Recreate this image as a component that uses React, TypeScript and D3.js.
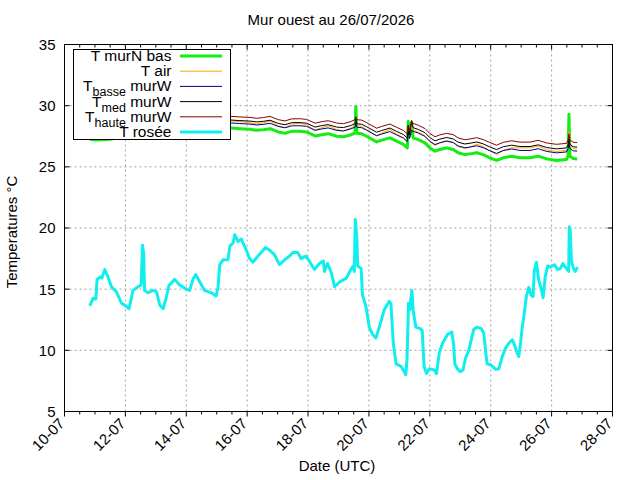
import React from 'react';
import * as d3 from 'd3';

// day offsets from 10-07-2026 00:00 UTC, shared by the wall / air series
const wallDays = [0.83, 1.0, 1.5, 2.0, 2.5, 3.0, 3.5, 4.0, 4.5, 5.0, 5.5, 5.76, 6.09, 6.31, 6.53, 6.75, 7.02, 7.24, 7.46, 7.73, 7.95, 8.23, 8.45, 8.66, 8.94, 9.16, 9.38, 9.54, 9.57, 9.6, 9.76, 9.92, 10.25, 10.42, 10.69, 10.91, 11.13, 11.26, 11.29, 11.33, 11.4, 11.45, 11.62, 11.84, 12.0, 12.17, 12.33, 12.55, 12.77, 12.93, 13.15, 13.32, 13.54, 13.75, 13.97, 14.19, 14.41, 14.69, 14.96, 15.29, 15.56, 15.84, 16.16, 16.49, 16.54, 16.57, 16.6, 16.71, 16.84];
const tMurNBas = [27.25, 27.2, 27.25, 27.5, 27.7, 27.8, 27.9, 28.0, 28.1, 28.2, 28.17, 28.12, 28.07, 27.99, 28.04, 28.12, 27.85, 27.74, 27.9, 27.9, 27.85, 27.52, 27.63, 27.71, 27.5, 27.45, 27.6, 27.75, 29.95, 27.75, 27.7, 27.5, 27.04, 27.18, 27.37, 27.1, 26.83, 26.55, 28.7, 27.5, 28.6, 27.37, 27.23, 26.96, 26.55, 26.28, 26.42, 26.55, 26.42, 26.15, 26.0, 26.06, 26.15, 26.0, 25.74, 25.52, 25.74, 25.87, 25.74, 25.74, 25.87, 25.65, 25.52, 25.6, 25.87, 29.3, 25.87, 25.68, 25.65];
const tAir = [27.7, 27.65, 27.75, 28.0, 28.2, 28.3, 28.4, 28.55, 28.65, 28.75, 28.75, 28.7, 28.6, 28.5, 28.6, 28.75, 28.35, 28.2, 28.5, 28.55, 28.45, 28.0, 28.2, 28.35, 28.05, 27.95, 28.15, 28.35, 28.75, 28.4, 28.3, 28.05, 27.55, 27.75, 28.05, 27.7, 27.35, 27.1, 28.1, 27.4, 28.3, 28.0, 27.85, 27.55, 27.05, 26.75, 26.95, 27.15, 27.0, 26.65, 26.5, 26.6, 26.85, 26.65, 26.3, 26.0, 26.35, 26.55, 26.55, 26.55, 26.7, 26.4, 26.25, 26.35, 26.6, 27.9, 26.8, 26.5, 26.45];
const tBasse = [27.62, 27.57, 27.63, 27.84, 28.05, 28.16, 28.27, 28.38, 28.49, 28.6, 28.58, 28.54, 28.49, 28.42, 28.47, 28.56, 28.3, 28.19, 28.35, 28.36, 28.31, 27.98, 28.1, 28.18, 27.98, 27.93, 28.08, 28.24, 28.6, 28.24, 28.2, 28.0, 27.54, 27.68, 27.88, 27.61, 27.35, 27.07, 27.9, 27.3, 28.0, 27.9, 27.76, 27.49, 27.09, 26.82, 26.97, 27.1, 26.98, 26.71, 26.56, 26.62, 26.72, 26.57, 26.32, 26.1, 26.33, 26.46, 26.34, 26.34, 26.48, 26.26, 26.14, 26.22, 26.5, 26.9, 26.5, 26.31, 26.28];
const tMed = [27.82, 27.78, 27.84, 28.06, 28.27, 28.38, 28.5, 28.61, 28.73, 28.84, 28.82, 28.78, 28.74, 28.67, 28.72, 28.81, 28.55, 28.44, 28.61, 28.62, 28.57, 28.25, 28.37, 28.45, 28.25, 28.21, 28.36, 28.52, 28.95, 28.52, 28.48, 28.28, 27.83, 27.97, 28.17, 27.9, 27.64, 27.36, 28.4, 27.6, 28.7, 28.2, 28.06, 27.79, 27.39, 27.12, 27.27, 27.4, 27.28, 27.01, 26.87, 26.93, 27.03, 26.88, 26.63, 26.41, 26.64, 26.77, 26.66, 26.66, 26.8, 26.58, 26.47, 26.55, 26.8, 27.3, 26.85, 26.64, 26.61];
const tHaute = [28.08, 28.04, 28.1, 28.32, 28.54, 28.66, 28.78, 28.89, 29.01, 29.13, 29.12, 29.08, 29.04, 28.97, 29.03, 29.12, 28.86, 28.75, 28.92, 28.93, 28.88, 28.57, 28.69, 28.77, 28.58, 28.53, 28.68, 28.85, 29.1, 28.85, 28.82, 28.62, 28.16, 28.3, 28.5, 28.23, 27.98, 27.7, 28.3, 28.0, 28.8, 28.55, 28.4, 28.13, 27.73, 27.46, 27.61, 27.74, 27.63, 27.36, 27.22, 27.28, 27.38, 27.23, 26.99, 26.77, 27.0, 27.13, 27.02, 27.02, 27.17, 26.95, 26.84, 26.92, 27.2, 27.7, 27.2, 27.01, 26.98];

const dewDays = [0.83, 0.94, 1.03, 1.07, 1.18, 1.23, 1.32, 1.43, 1.54, 1.70, 1.87, 1.98, 2.12, 2.25, 2.42, 2.52, 2.56, 2.60, 2.63, 2.74, 2.89, 3.02, 3.13, 3.24, 3.34, 3.43, 3.62, 3.78, 4.0, 4.11, 4.22, 4.31, 4.44, 4.60, 4.82, 4.98, 5.04, 5.10, 5.21, 5.37, 5.43, 5.54, 5.59, 5.70, 5.81, 5.86, 5.97, 6.08, 6.19, 6.35, 6.46, 6.60, 6.73, 6.9, 7.06, 7.23, 7.39, 7.5, 7.66, 7.77, 7.93, 8.04, 8.21, 8.37, 8.5, 8.54, 8.64, 8.77, 8.87, 9.04, 9.26, 9.37, 9.48, 9.52, 9.55, 9.6, 9.63, 9.74, 9.79, 9.9, 10.01, 10.12, 10.23, 10.34, 10.5, 10.66, 10.72, 10.8, 10.89, 11.05, 11.16, 11.21, 11.25, 11.3, 11.34, 11.41, 11.45, 11.54, 11.7, 11.75, 11.81, 11.89, 11.98, 12.14, 12.22, 12.31, 12.42, 12.58, 12.72, 12.78, 12.82, 12.9, 13.0, 13.09, 13.17, 13.28, 13.36, 13.44, 13.55, 13.68, 13.77, 13.83, 13.88, 14.01, 14.16, 14.27, 14.38, 14.49, 14.6, 14.71, 14.78, 14.87, 14.92, 14.98, 15.03, 15.1, 15.17, 15.25, 15.33, 15.39, 15.43, 15.5, 15.54, 15.57, 15.65, 15.72, 15.79, 15.87, 15.96, 16.09, 16.2, 16.29, 16.37, 16.48, 16.56, 16.58, 16.61, 16.65, 16.72, 16.78, 16.85];
const tRosee = [13.63, 14.26, 14.2, 15.8, 16.0, 15.9, 16.6, 16.0, 15.2, 14.8, 13.85, 13.7, 13.4, 14.9, 15.2, 15.35, 18.6, 17.9, 14.9, 14.7, 14.9, 14.8, 13.7, 13.4, 14.3, 15.3, 15.8, 15.35, 15.0, 14.9, 15.8, 16.2, 15.6, 14.9, 14.7, 14.45, 15.1, 17.0, 17.4, 17.4, 18.5, 18.8, 19.45, 18.9, 19.1, 18.8, 18.2, 17.5, 17.2, 17.7, 18.0, 18.4, 18.2, 17.8, 17.0, 17.4, 17.7, 18.0, 18.0, 17.5, 17.7, 17.3, 16.6, 17.1, 17.3, 16.45, 17.1, 16.3, 15.2, 15.6, 15.9, 16.45, 16.9, 16.45, 20.7, 19.3, 16.9, 16.7, 14.5, 13.6, 11.9, 11.3, 11.0, 11.9, 13.3, 14.0, 13.85, 10.6, 8.9, 8.7, 8.25, 8.0, 9.2, 13.85, 13.3, 14.9, 13.3, 11.9, 11.75, 11.6, 8.7, 8.1, 8.5, 8.4, 8.1, 9.8, 10.6, 11.3, 11.5, 10.5, 8.9, 8.5, 8.25, 8.4, 9.35, 10.0, 10.85, 11.7, 11.9, 11.8, 11.4, 10.0, 8.9, 8.8, 8.45, 8.5, 9.5, 10.2, 10.6, 10.85, 10.45, 9.75, 9.5, 10.6, 11.8, 13.0, 14.4, 15.15, 14.5, 14.4, 16.45, 17.2, 16.45, 15.8, 15.1, 14.3, 16.0, 16.9, 16.8, 17.0, 16.6, 16.7, 17.1, 16.7, 16.45, 20.1, 19.85, 17.3, 16.7, 16.45, 16.8];

const yTicks = [5, 10, 15, 20, 25, 30, 35];
const xTickDays = [0, 2, 4, 6, 8, 10, 12, 14, 16, 18];

const start = Date.UTC(2026, 6, 10);
const toDate = (d: number) => new Date(start + d * 864e5);

const W = 640, H = 480;
const left = 64.5, right = 612.5, top = 44.5, bottom = 411.5;
const font = 'Liberation Sans, Arial, Helvetica, sans-serif';

export default function App() {
    const x = d3.scaleUtc().domain([toDate(0), toDate(18)]).range([left, right]);
    const y = d3.scaleLinear().domain([5, 35]).range([bottom, top]);
    const fmt = d3.utcFormat('%d-%m');
    const minorTicks = d3.utcHour.every(12)!.range(toDate(0), toDate(18.01));

    const mk = (days: number[], vals: number[]) =>
        d3.line<number>().x((_, i) => x(toDate(days[i]))).y(v => y(v))(vals) || '';

    const series = [
        { label: ['T murN bas'], color: '#11ee11', width: 3, path: mk(wallDays, tMurNBas) },
        { label: ['T air'], color: '#ffa500', width: 1, path: mk(wallDays, tAir) },
        { label: ['T', 'basse', ' murW'], color: '#000080', width: 1, path: mk(wallDays, tBasse) },
        { label: ['T', 'med', ' murW'], color: '#000000', width: 1, path: mk(wallDays, tMed) },
        { label: ['T', 'haute', ' murW'], color: '#8b0000', width: 1, path: mk(wallDays, tHaute) },
        { label: ['T rosée'], color: '#11eeee', width: 3, path: mk(dewDays, tRosee) },
    ];

    return (
        <svg width={W} height={H} style={{ position: 'absolute', left: 0, top: 0, background: '#fff' }} fontFamily={font}>
            <rect width={W} height={H} fill="#fff" />
            {/* grid */}
            {xTickDays.slice(1, -1).map(d => (
                <line key={'gx' + d} x1={x(toDate(d))} x2={x(toDate(d))} y1={top} y2={bottom} stroke="#a0a0a0" strokeDasharray="2,3" />
            ))}
            {yTicks.slice(1, -1).map(v => (
                <line key={'gy' + v} x1={left} x2={right} y1={y(v)} y2={y(v)} stroke="#a0a0a0" strokeDasharray="2,3" />
            ))}
            {/* data */}
            {series.map((s, i) => (
                <path key={'s' + i} d={s.path} fill="none" stroke={s.color} strokeWidth={s.width} strokeLinejoin="round" />
            ))}
            {/* frame and ticks */}
            <rect x={left} y={top} width={right - left} height={bottom - top} fill="none" stroke="#000" />
            {minorTicks.map((t, i) => {
                const major = i % 4 === 0;
                const px = x(t);
                return (
                    <g key={'tx' + i}>
                        <line x1={px} x2={px} y1={top} y2={top + (major ? 5 : 3)} stroke="#000" />
                        <line x1={px} x2={px} y1={bottom} y2={bottom + (major ? 5 : 3)} stroke="#000" />
                    </g>
                );
            })}
            {yTicks.map(v => (
                <g key={'ty' + v}>
                    <line x1={left} x2={left + 5} y1={y(v)} y2={y(v)} stroke="#000" />
                    <line x1={right - 5} x2={right} y1={y(v)} y2={y(v)} stroke="#000" />
                    <text x={left - 9} y={y(v)} dy="0.36em" textAnchor="end" fontSize={15}>{v}</text>
                </g>
            ))}
            {xTickDays.map(d => {
                const px = x(toDate(d));
                return (
                    <text key={'lx' + d} transform={`translate(${px + 1},${bottom + 13}) rotate(-45)`} textAnchor="end" fontSize={15}>
                        {fmt(toDate(d))}
                    </text>
                );
            })}
            {/* titles */}
            <text x={331} y={25} textAnchor="middle" fontSize={15}>Mur ouest au 26/07/2026</text>
            <text x={337} y={471} textAnchor="middle" fontSize={15}>Date (UTC)</text>
            <text transform={`translate(17,232) rotate(-90)`} textAnchor="middle" fontSize={15}>Temperatures °C</text>
            {/* legend */}
            <rect x={73.5} y={49.5} width={157} height={90} fill="#fff" stroke="#000" />
            {series.map((s, i) => {
                const cy = 56 + i * 15.2;
                return (
                    <g key={'lg' + i}>
                        <text x={171.5} y={cy + 5} textAnchor="end" fontSize={15.5}>
                            {s.label.length === 1 ? s.label[0] : (
                                <>
                                    {s.label[0]}
                                    <tspan fontSize={12.5} dy={5}>{s.label[1]}</tspan>
                                    <tspan dy={-5}>{s.label[2]}</tspan>
                                </>
                            )}
                        </text>
                        <line x1={180} x2={222} y1={cy} y2={cy} stroke={s.color} strokeWidth={s.width} />
                    </g>
                );
            })}
        </svg>
    );
}
